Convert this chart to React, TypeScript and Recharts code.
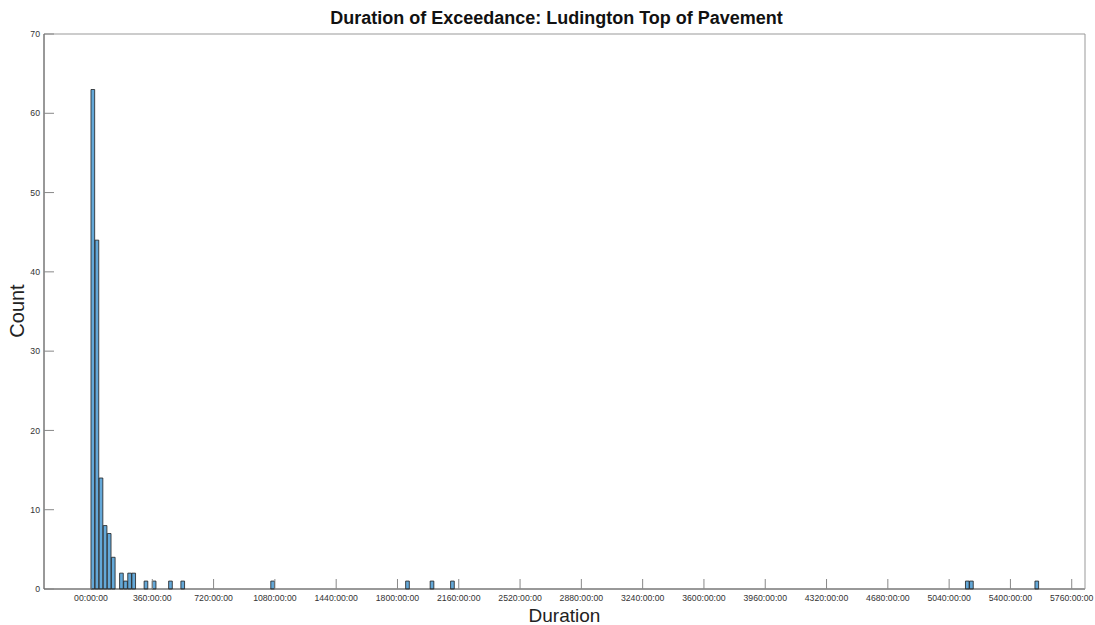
import { BarChart, Bar, XAxis, YAxis } from "recharts";

// histogram bins: start of each 24 h bin (hours) and its count
const binStartHours = [0, 24, 48, 72, 96, 120, 168, 192, 216, 240, 312, 360, 456, 528, 1056, 1848, 1992, 2112, 5136, 5160, 5544];
const counts = [63, 44, 14, 8, 7, 4, 2, 1, 2, 2, 1, 1, 1, 1, 1, 1, 1, 1, 1, 1, 1];
const binWidthHours = 24;

const xTicks = [0, 360, 720, 1080, 1440, 1800, 2160, 2520, 2880, 3240, 3600, 3960, 4320, 4680, 5040, 5400, 5760];
const yTicks = [0, 10, 20, 30, 40, 50, 60, 70];
const xDomain: [number, number] = [-276, 5838];

const W = 1095;
const H = 625;
const LEFT = 44;
const RIGHT = 10;
const TOP = 34;
const BOTTOM = 36;

const data = binStartHours.map((start, i) => ({
  hour: start + binWidthHours / 2,
  count: counts[i],
}));

const plotWidth = W - LEFT - RIGHT;
const barPx = (binWidthHours / (xDomain[1] - xDomain[0])) * plotWidth;

const tickStyle = { fill: "#333", fontSize: 8.7 };
const font = '"Liberation Sans", Arial, sans-serif';

export default function App() {
  return (
    <div style={{ position: "absolute", left: 0, top: 0, width: W, height: H, background: "#fff", fontFamily: font, overflow: "hidden" }}>
      <BarChart
        width={W}
        height={H}
        data={data}
        margin={{ top: 0, right: 0, bottom: 0, left: 0 }}
        barCategoryGap={0}
        barGap={0}
      >
        <XAxis
          xAxisId="bottom"
          dataKey="hour"
          type="number"
          domain={xDomain}
          ticks={xTicks}
          allowDataOverflow
          height={BOTTOM}
          tickSize={-10}
          tickMargin={15.5}
          tick={tickStyle}
          tickLine={{ stroke: "#888" }}
          axisLine={{ stroke: "#333" }}
          tickFormatter={(v) => (v === 0 ? "00:00:00" : `${v}:00:00`)}
          interval={0}
        />
        <XAxis
          xAxisId="top"
          orientation="top"
          type="number"
          domain={xDomain}
          ticks={xTicks}
          allowDataOverflow
          height={TOP}
          tickSize={-10}
          tick={false}
          tickLine={{ stroke: "#888" }}
          axisLine={{ stroke: "#999" }}
          interval={0}
        />
        <YAxis
          yAxisId="left"
          type="number"
          domain={[0, 70]}
          ticks={yTicks}
          width={LEFT}
          tickSize={-10}
          tickMargin={14}
          tick={tickStyle}
          tickLine={{ stroke: "#888" }}
          axisLine={{ stroke: "#333" }}
          interval={0}
        />
        <YAxis
          yAxisId="right"
          orientation="right"
          type="number"
          domain={[0, 70]}
          ticks={yTicks}
          width={RIGHT}
          tickSize={-10}
          tick={false}
          tickLine={{ stroke: "#888" }}
          axisLine={{ stroke: "#999" }}
          interval={0}
        />
        <Bar
          xAxisId="bottom"
          yAxisId="left"
          dataKey="count"
          barSize={barPx}
          fill="#64a8d8"
          stroke="#1e1e1e"
          strokeWidth={0.8}
          isAnimationActive={false}
        />
      </BarChart>
      <div
        style={{
          position: "absolute",
          left: 0,
          width: 1113,
          top: 7,
          textAlign: "center",
          fontSize: 18,
          fontWeight: "bold",
          color: "#111",
          lineHeight: "22px",
        }}
      >
        Duration of Exceedance: Ludington Top of Pavement
      </div>
      <div
        style={{
          position: "absolute",
          left: LEFT,
          width: plotWidth,
          top: 607,
          textAlign: "center",
          fontSize: 19,
          color: "#222",
          lineHeight: "18px",
        }}
      >
        Duration
      </div>
      <div
        style={{
          position: "absolute",
          left: 17,
          top: 311,
          transform: "translate(-50%, -50%) rotate(-90deg)",
          fontSize: 20,
          color: "#222",
          lineHeight: "22px",
          whiteSpace: "nowrap",
        }}
      >
        Count
      </div>
    </div>
  );
}
